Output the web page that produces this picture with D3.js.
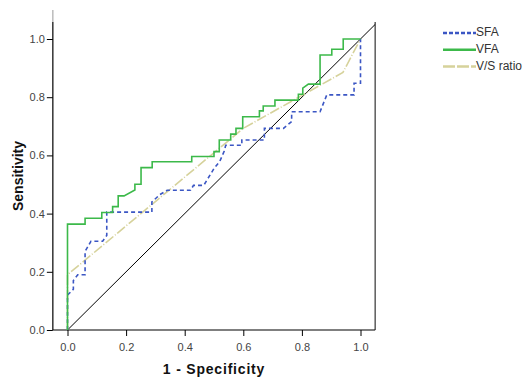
<!DOCTYPE html>
<html>
<head>
<meta charset="utf-8">
<script src="https://cdn.jsdelivr.net/npm/d3@7"></script>
<style>
  body { margin: 0; background: #fff; }
  svg { display: block; font-family: "Liberation Sans", Arial, sans-serif; }
</style>
</head>
<body>
<svg id="chart" width="532" height="384"></svg>
<script>
// ROC curves: [1 - specificity, sensitivity]
const sfa = [[0,0],[0,0.12],[0.02,0.14],[0.02,0.17],[0.035,0.19],[0.06,0.19],[0.06,0.27],[0.08,0.305],
  [0.12,0.305],[0.134,0.325],[0.134,0.405],[0.288,0.405],[0.288,0.44],[0.315,0.465],[0.34,0.48],
  [0.42,0.48],[0.43,0.497],[0.465,0.497],[0.5,0.555],[0.52,0.58],[0.535,0.615],[0.54,0.635],
  [0.595,0.635],[0.595,0.653],[0.672,0.653],[0.672,0.693],[0.737,0.693],[0.765,0.716],[0.765,0.75],
  [0.862,0.75],[0.885,0.808],[0.978,0.808],[0.978,0.848],[1,0.848],[1,1]]

const vfa = [[0,0],[0,0.364],[0.06,0.364],[0.06,0.384],[0.117,0.384],[0.117,0.404],[0.154,0.404],
  [0.154,0.424],[0.173,0.424],[0.173,0.461],[0.193,0.461],[0.23,0.481],[0.23,0.501],[0.251,0.501],
  [0.251,0.558],[0.289,0.558],[0.289,0.578],[0.424,0.578],[0.424,0.596],[0.5,0.596],[0.5,0.613],
  [0.518,0.613],[0.518,0.653],[0.557,0.653],[0.557,0.673],[0.575,0.673],[0.575,0.693],[0.598,0.693],
  [0.598,0.733],[0.655,0.733],[0.655,0.753],[0.668,0.753],[0.668,0.77],[0.708,0.77],[0.708,0.79],
  [0.788,0.79],[0.788,0.81],[0.803,0.81],[0.803,0.831],[0.822,0.845],[0.862,0.845],[0.862,0.945],
  [0.902,0.945],[0.902,0.965],[0.941,0.965],[0.941,1],[1,1]]

const ratio = [[0,0],[0,0.19],[0.6,0.693],[0.94,0.885],[1,1]]

const ticks = [0, 0.2, 0.4, 0.6, 0.8, 1.0]
const legendNames = ["SFA", "VFA", "V/S ratio"]

const svg = d3.select('#chart')

const x = d3.scaleLinear().domain([0, 1]).range([67.5, 360.5])
const y = d3.scaleLinear().domain([0, 1]).range([330, 39])

const fLeft = x(-0.05), fRight = x(1.05), fTop = 22, fBottom = y(0)

const styles = [
  { color: '#3b56c4', width: 1.6, dash: '4,3' },
  { color: '#3cb94a', width: 1.6, dash: null },
  { color: '#d6d29b', width: 1.6, dash: '10,2,1,2' }
]

// frame (no top line)
svg.append('line').attr('x1', fLeft).attr('x2', fLeft).attr('y1', 10).attr('y2', fTop)
  .attr('stroke', '#aaa').attr('stroke-width', 1.2)
svg.append('line').attr('x1', fLeft).attr('x2', fLeft).attr('y1', fTop).attr('y2', fBottom)
  .attr('stroke', '#000').attr('stroke-width', 1.2)
svg.append('line').attr('x1', fRight).attr('x2', fRight).attr('y1', fTop).attr('y2', fBottom)
  .attr('stroke', '#333').attr('stroke-width', 1.2)

// axes
const xAxis = d3.axisBottom(x).tickValues(ticks).tickFormat(d3.format('.1f')).tickSize(6).tickSizeOuter(0)
const gx = svg.append('g').attr('transform', `translate(0,${fBottom})`).call(xAxis)
gx.select('.domain').remove()
svg.append('line').attr('x1', fLeft).attr('x2', fRight).attr('y1', fBottom).attr('y2', fBottom)
  .attr('stroke', '#000').attr('stroke-width', 1.2)
gx.selectAll('text').attr('font-size', 11).attr('fill', '#444').attr('dy', '1.05em')
  .attr('font-family', '"Liberation Sans", Arial, sans-serif')

const yAxis = d3.axisLeft(y).tickValues(ticks).tickFormat(d3.format('.1f')).tickSize(6).tickSizeOuter(0)
const gy = svg.append('g').attr('transform', `translate(${fLeft},0)`).call(yAxis)
gy.select('.domain').remove()
gy.selectAll('text').attr('font-size', 11).attr('fill', '#444').attr('x', -8)
  .attr('font-family', '"Liberation Sans", Arial, sans-serif')

// reference diagonal
svg.append('line')
  .attr('x1', x(0)).attr('y1', y(0)).attr('x2', x(1.05)).attr('y2', y(1.05))
  .attr('stroke', '#000').attr('stroke-width', 1)

const line = d3.line().x(d => x(d[0])).y(d => y(d[1]))

const series = [sfa, vfa, ratio]
// draw ratio first, then sfa, then vfa on top
;[2, 0, 1].forEach(i => {
  svg.append('path')
    .attr('d', line(series[i]))
    .attr('fill', 'none')
    .attr('stroke', styles[i].color)
    .attr('stroke-width', styles[i].width)
    .attr('stroke-dasharray', styles[i].dash)
})

// titles
svg.append('text').attr('x', (fLeft + fRight) / 2).attr('y', 374)
  .attr('text-anchor', 'middle').attr('font-size', 14).attr('font-weight', 'bold')
  .attr('letter-spacing', 0.8).attr('fill', '#111')
  .text('1 - Specificity')

svg.append('text').attr('transform', `translate(19,${(fTop + fBottom) / 2}) rotate(-90)`)
  .attr('text-anchor', 'middle').attr('dominant-baseline', 'middle')
  .attr('font-size', 14).attr('font-weight', 'bold').attr('fill', '#111')
  .text('Sensitivity')

// legend
const lg = svg.append('g').attr('transform', 'translate(443,33)')
legendNames.forEach((name, i) => {
  const g = lg.append('g').attr('transform', `translate(0,${i * 16.7})`)
  g.append('line').attr('x1', 0).attr('x2', 33).attr('y1', 0).attr('y2', 0)
    .attr('stroke', styles[i].color).attr('stroke-width', 2.5)
    .attr('stroke-dasharray', i === 0 ? '4,2' : (i === 2 ? '12,2' : null))
  g.append('text').attr('x', 33).attr('y', 0).attr('dominant-baseline', 'middle')
    .attr('font-size', 12).attr('fill', '#333').text(name)
})
</script>
</body>
</html>
